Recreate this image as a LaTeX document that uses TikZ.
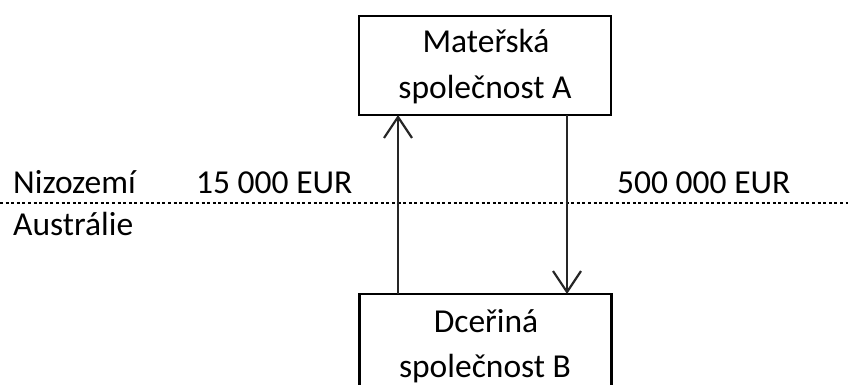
\documentclass[tikz,border=0pt]{standalone}
\usepackage{fontspec}
\setmainfont{Carlito}
\usetikzlibrary{arrows.meta}
\begin{document}
\begin{tikzpicture}[x=1pt,y=-1pt,
  company/.style={draw=black,line width=2.2pt,minimum width=252pt,minimum height=99pt,inner sep=0pt},
  flow/.style={line width=2.2pt,draw=black!85,-{Straight Barb[length=21pt,width=28pt,line width=2.2pt]}},
  txt/.style={inner sep=0pt,font=\fontsize{33.5}{46}\selectfont},
  lbl/.style={txt,anchor=base west},
  border/.style={line width=1.8pt,dash pattern=on 3pt off 2.6pt}
]
\useasboundingbox (0,0) rectangle (848,385);
% company boxes
\node[company] (A) at (485,65.5) {};
\node[company,minimum height=110pt] (B) at (485.5,349) {};
% box texts
\node[txt,anchor=base] (A1) at (486,53) {Mateřská};
\node[txt,anchor=base] (A2) at (485,99) {společnost A};
\node[txt,anchor=base] (B1) at (486,332) {Dceřiná};
\node[txt,anchor=base] (B2) at (485,377) {společnost B};
% state border
\coordinate (L) at (0,203);
\coordinate (R) at (848,203);
\draw[border] (L) -- (R);
% labels
\node[lbl] (nl) at (13,193) {Nizozemí};
\node[lbl] (au) at (13,235) {Austrálie};
\node[lbl] (d) at (196,193) {15 000 EUR};
\node[lbl] (p) at (617,193) {500 000 EUR};
% payment flows
\coordinate (up0) at (398,294);
\coordinate (up1) at (398,115);
\coordinate (dn0) at (567,115);
\coordinate (dn1) at (567,294);
\draw[flow] (up0) -- (up1);
\draw[flow] (dn0) -- (dn1);
\end{tikzpicture}
\end{document}
